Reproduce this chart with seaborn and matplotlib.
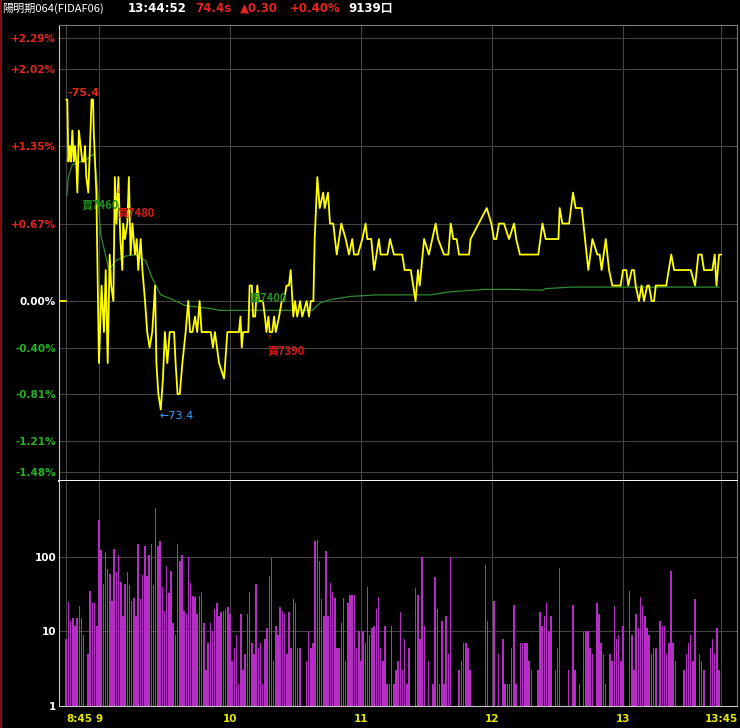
import numpy as np
import pandas as pd
import matplotlib
matplotlib.use("Agg")
import matplotlib.pyplot as plt
from matplotlib.lines import Line2D
from matplotlib.ticker import NullLocator
import seaborn as sns

# ---------------- data ----------------
ref_price = 74.1   # previous close (0.00%)

# minutes after 08:45 and traded price (yellow line)
price_times = [0, 0.5, 1.0, 1.7, 2.2, 2.8, 3.5, 4.0, 4.6, 5.1, 5.8, 6.6, 7.4, 8.1, 8.6, 9.2,
               10.1, 10.9, 11.6, 12.3, 12.6, 13.2, 13.8, 15.0, 16.2, 17.3, 18.1, 19.0, 19.9,
               20.6, 21.6, 22.3, 23.0, 23.9, 24.8, 25.7, 26.1, 26.9, 28.0, 28.7, 29.5, 30.3,
               31.5, 32.3, 33.0, 34.1, 34.9, 36.1, 37.1, 38.2, 39.4, 40.7, 41.3, 42.2, 43.3,
               44.3, 45.2, 46.3, 47.4, 48.6, 49.4, 50.1, 51.0, 52.0, 53.2, 54.7, 55.9, 56.7,
               57.8, 59.0, 60.0, 61.1, 62.0, 63.9, 66.2, 67.2, 68.1, 70.0, 72.3, 73.8, 74.9,
               79.1, 79.8, 80.4, 81.0, 83.4, 84.0, 85.0, 85.6, 86.5, 87.5, 88.3, 90.1, 91.0,
               91.7, 92.6, 93.2, 94.4, 95.2, 96.0, 97.5, 98.7,
               99.7, 100.9, 102.0, 102.8, 104.0, 104.8, 105.8, 107.1, 108.1, 110.1, 111.2,
               112.0, 113.2, 113.8, 115.0, 116.1, 117.7, 118.4, 119.9, 120.8, 122.3, 123.9,
               126.0, 128.0, 129.5, 131.0, 131.8, 133.6, 135.6, 137.1, 137.9, 139.7, 141.0,
               143.2, 144.0, 147.1, 148.3, 150.1, 153.9, 155.0, 157.8, 160.0, 161.1, 161.9,
               163.9, 166.1, 169.2, 170.3, 173.0, 175.0, 176.1, 177.3, 178.8, 179.9, 184.5,
               185.2, 192.6, 194.7, 195.9, 197.0, 198.2, 200.5,
               202.8, 205.1, 206.1, 207.8, 216.2, 218.1, 219.6, 225.4, 226.0, 227.2, 230.3,
               232.1, 233.3, 236.1, 239.1, 241.0, 243.2, 244.3, 245.2, 247.1, 248.6, 250.1,
               253.9, 255.0, 256.5, 257.4, 259.0, 260.0, 260.8, 262.3, 263.5, 264.6, 266.1,
               266.9, 268.1, 269.2, 270.0, 274.8, 277.1, 278.4, 286.0, 288.0, 289.5, 291.0,
               292.1, 295.9, 297.0, 297.8, 299.0, 300.0]
prices = [75.4, 75.4, 75.0, 75.1, 75.0, 75.2, 75.0, 75.1, 75.0, 74.8, 75.2, 75.1, 75.0, 75.0, 75.1, 74.9,
          74.8, 75.1, 75.4, 75.4, 75.2, 75.0, 74.8, 73.7, 74.2, 73.9, 74.3, 73.7, 74.4,
          74.2, 74.1, 74.9, 74.6, 74.9, 74.5, 74.3, 74.6, 74.5, 74.6, 74.9, 74.4, 74.6,
          74.4, 74.5, 74.3, 74.5, 74.3, 74.1, 73.9, 73.8, 73.9, 74.2, 73.7, 73.5, 73.4,
          73.6, 73.9, 73.7, 73.9, 73.9, 73.9, 73.7, 73.5, 73.5, 73.7, 73.9, 74.1, 73.9,
          73.9, 74.0, 73.9, 74.1, 73.9, 73.9, 73.9, 73.8, 73.9, 73.7, 73.6, 73.9, 73.9,
          73.9, 74.0, 73.8, 73.9, 73.9, 74.2, 74.2, 74.0, 74.0, 74.2, 74.1, 74.1, 74.0,
          73.9, 74.0, 73.9, 73.9, 74.0, 73.9, 74.0, 74.1,
          74.1, 74.2, 74.2, 74.3, 74.0, 74.1, 74.0, 74.1, 74.0, 74.1, 74.0,
          74.1, 74.1, 74.5, 74.9, 74.7, 74.8, 74.7, 74.8, 74.6, 74.6, 74.4,
          74.6, 74.5, 74.4, 74.5, 74.4, 74.4, 74.5, 74.6, 74.5, 74.5, 74.3,
          74.5, 74.4, 74.4, 74.5, 74.4, 74.4, 74.3, 74.3, 74.1, 74.3, 74.2,
          74.5, 74.4, 74.6, 74.5, 74.4, 74.4, 74.6, 74.5, 74.5, 74.4, 74.4,
          74.5, 74.7, 74.6, 74.5, 74.5, 74.6, 74.6,
          74.5, 74.6, 74.5, 74.4, 74.4, 74.6, 74.5, 74.5, 74.7, 74.6, 74.6,
          74.8, 74.7, 74.7, 74.3, 74.5, 74.4, 74.4, 74.3, 74.5, 74.3, 74.2,
          74.2, 74.3, 74.3, 74.2, 74.3, 74.3, 74.2, 74.1, 74.2, 74.1, 74.2,
          74.2, 74.1, 74.1, 74.2, 74.2, 74.4, 74.3, 74.3, 74.2, 74.4, 74.4,
          74.3, 74.3, 74.4, 74.2, 74.4, 74.4]

# average price (green line)
avg_times = [0.3, 1.0, 2.8, 8.9, 12.7, 14.2, 15.8, 19.6, 22.6, 27.2, 31.8, 36.4, 38.7, 41.0,
             43.3, 48.6, 54.7, 66.9, 70.0, 100.2, 112.7, 116.5, 121.1, 130.3, 142.5, 166.9,
             176.1, 191.4, 203.3, 218.0, 219.6, 231.0, 299.0]
avg_prices = [74.78, 74.90, 74.98, 75.01, 75.05, 74.85, 74.53, 74.30, 74.36, 74.39, 74.40, 74.36,
              74.27, 74.20, 74.14, 74.11, 74.07, 74.05, 74.04, 74.04, 74.04, 74.09, 74.11, 74.13,
              74.14, 74.14, 74.16, 74.175, 74.175, 74.17, 74.18, 74.19, 74.19]

# volume per minute from 08:45 to 13:45
volume = [8, 25, 14, 15, 12, 15, 22, 15, 9, 0, 5, 35, 24, 24, 12, 310, 125, 43, 118, 68,
          60, 26, 130, 62, 105, 46, 16, 44, 62, 42, 26, 28, 16, 150, 27, 57, 140, 56, 105, 150,
          42, 460, 140, 165, 40, 19, 75, 33, 65, 13, 9, 150, 88, 105, 19, 17, 100, 45, 30, 29,
          17,
          30, 34, 13, 3, 7, 13, 10, 20, 24, 16, 18, 19, 20, 21, 17, 4, 6, 9, 2, 17,
          3, 5, 17, 34, 7, 5, 43, 6, 7, 2, 8, 11, 56, 97, 4, 12, 9, 21, 19, 17,
          5, 18, 6, 27, 24, 6, 6,
          0, 0,
          4, 10, 6, 7, 163, 170, 89, 27, 16, 121, 16, 45, 34, 28, 6, 6, 13, 28, 4, 24,
          31, 31, 31, 6, 10, 4, 10, 7, 39, 9, 11, 12, 20, 29, 6, 4, 12, 2, 2, 12, 2,
          3, 4, 18, 3, 8, 2, 6, 0, 0, 38, 31, 8, 100, 12, 0, 4, 0, 2, 54, 20,
          2, 14, 2, 16, 5, 100, 0, 0, 0, 3, 4, 7, 7, 6, 3, 0, 0, 0, 0, 0,
          0, 79, 14, 0, 0, 26, 0, 5, 0, 8, 2, 2, 2, 6, 23, 2, 0, 7, 7, 7,
          7, 4, 3, 0, 0, 3, 18, 12, 16, 24, 10, 16, 0, 3, 6, 71, 0, 0, 0, 3,
          0, 23, 3, 0, 2, 0, 10, 10, 10, 6, 5, 0, 24, 17, 7, 5, 2, 0, 5, 4,
          22, 8, 9, 4, 12, 0, 0, 35, 9, 3, 17, 11, 29, 22, 16, 11, 9, 5, 6, 6,
          0, 14, 12, 12, 5, 7, 65, 7, 4, 0, 0, 0, 3, 5, 7, 9, 4, 27, 0, 5,
          4, 3, 0, 0, 6, 8, 5, 11, 3, 0]

xtick_pos = [0, 15, 75, 135, 195, 255, 300]
xtick_labels = ["8:45", "9", "10", "11", "12", "13", "13:45"]
ytick_prices = [75.8, 75.6, 75.1, 74.6, 74.1, 73.8, 73.5, 73.2, 73.0]
ytick_labels = ["+2.29%", "+2.02%", "+1.35%", "+0.67%", "0.00%", "-0.40%", "-0.81%", "-1.21%", "-1.48%"]
vol_ticks = [1, 10, 100]
vol_tick_labels = ["1", "10", "100"]

# ---------------- style ----------------
sns.set_style("dark", rc={"axes.facecolor": "black", "figure.facecolor": "black",
                          "axes.edgecolor": "#9a9a9a", "grid.color": "#444444"})
plt.rcParams["font.family"] = ["DejaVu Sans", "Noto Sans CJK TC"]

RED = "#E8231E"
GREEN = "#22B422"
YELLOW = "#FFFF00"
GRID = "#444444"
CJK = ["Noto Sans CJK TC", "DejaVu Sans"]

W, H = 740, 728
fig = plt.figure(figsize=(W / 100, H / 100), dpi=100, facecolor="black")
ax = fig.add_axes([59 / W, 1 - 481 / H, 678 / W, 456 / H])
axv = fig.add_axes([59 / W, 1 - 706 / H, 678 / W, 225 / H])

xmin, xmax = -3.3, 307.2

# ---------------- price panel ----------------
ax.set_facecolor("black")
sns.lineplot(x=[xmin, 0], y=[ref_price, ref_price], ax=ax, color=YELLOW, lw=1.3)
sns.lineplot(x=avg_times, y=avg_prices, ax=ax, color="#2E8B2E", lw=0.9,
             estimator=None, sort=False)
sns.lineplot(x=price_times, y=prices, ax=ax, color=YELLOW, lw=1.3,
             estimator=None, sort=False)
ax.set_xlim(xmin, xmax)
ax.set_ylim(72.939, 75.881)
ax.set_xticks(xtick_pos)
ax.set_yticks(ytick_prices)
ax.set_yticklabels(ytick_labels)
ax.tick_params(axis="x", length=0, labelbottom=False)
ax.tick_params(axis="y", length=0, pad=2, labelsize=7.5)
for lab, v in zip(ax.get_yticklabels(), ytick_prices):
    lab.set_fontweight("bold")
    lab.set_color(RED if v > ref_price else ("white" if v == ref_price else GREEN))
ax.grid(True, color=GRID, lw=0.8)
ax.set_xlabel("")
ax.set_ylabel("")
ax.spines["left"].set_color("#c8c8c8")
ax.spines["top"].set_color("#7a7a7a")
ax.spines["right"].set_color("#7a7a7a")
ax.spines["bottom"].set_color("white")
ax.spines["bottom"].set_linewidth(1.4)
for s in ax.spines.values():
    s.set_visible(True)

# annotations
i_hi = int(np.argmax(prices))
i_lo = int(np.argmin(prices))
ax.annotate(f"-{prices[i_hi]:.1f}", xy=(price_times[i_hi], prices[i_hi]),
            xytext=(1, 5), textcoords="offset points", color=RED,
            fontsize=8, fontweight="bold", ha="left", va="center")
ax.annotate(f"←{prices[i_lo]:.1f}", xy=(price_times[i_lo], prices[i_lo]),
            xytext=(-1, -5), textcoords="offset points", color="#3AA2FF",
            fontsize=8, ha="left", va="center")
ax.text(7.2, 74.72, "賣7460", color="#1F8F1F", fontsize=8, family=CJK,
        fontweight="bold", ha="left", va="center")
ax.text(23.4, 74.67, "買7480", color="#E01818", fontsize=8, family=CJK,
        fontweight="bold", ha="left", va="center")
ax.text(23.9, 74.81, "↓", color="#E01818", fontsize=5, ha="center", va="center")
ax.text(84.1, 74.12, "賣7400", color="#1F8F1F", fontsize=8, family=CJK,
        fontweight="bold", ha="left", va="center")
ax.text(92.4, 73.78, "買7390", color="#E01818", fontsize=8, family=CJK,
        fontweight="bold", ha="left", va="center")
ax.text(93.2, 73.86, "↑", color="#E01818", fontsize=5, ha="center", va="center")

# ---------------- volume panel ----------------
axv.set_facecolor("black")
vdf = pd.DataFrame({"minute": list(range(len(volume))), "volume": volume})
sns.barplot(data=vdf, x="minute", y="volume", native_scale=True, ax=axv,
            color="#B52EC4", width=0.7, errorbar=None, linewidth=0, saturation=1)
axv.set_yscale("log")
axv.set_ylim(1, 1047)
axv.set_xlim(xmin, xmax)
axv.yaxis.set_minor_locator(NullLocator())
axv.set_yticks(vol_ticks)
axv.set_yticklabels(vol_tick_labels)
axv.set_xticks(xtick_pos)
axv.set_xticklabels(xtick_labels)
axv.set_xlabel("")
axv.set_ylabel("")
axv.tick_params(axis="y", length=0, pad=2, labelsize=7.5, labelcolor="white")
axv.tick_params(axis="x", length=4, width=1, color="#E8E800", pad=1.5,
                labelsize=7.5, labelcolor="#E8E800")
for lab in axv.get_yticklabels():
    lab.set_fontweight("bold")
for lab in axv.get_xticklabels():
    lab.set_fontweight("bold")
axv.get_xticklabels()[0].set_horizontalalignment("left")
axv.grid(True, color=GRID, lw=0.8)
axv.spines["left"].set_color("#c8c8c8")
axv.spines["bottom"].set_color("#c8c8c8")
axv.spines["right"].set_color("#7a7a7a")
axv.spines["top"].set_visible(False)

# ---------------- header ----------------
ty = 1 - 8.5 / H
fig.text(2 / W, ty, "陽明期064(FIDAF06)", color="white", fontsize=8, family=CJK,
         ha="left", va="center")
fig.text(128 / W, ty, "13:44:52", color="white", fontsize=8.5, fontweight="bold",
         ha="left", va="center")
fig.text(195 / W, ty, "74.4s", color=RED, fontsize=8.5, fontweight="bold",
         ha="left", va="center")
fig.text(240 / W, ty, "▲0.30", color=RED, fontsize=8.5, fontweight="bold",
         ha="left", va="center")
fig.text(290 / W, ty, "+0.40%", color=RED, fontsize=8.5, fontweight="bold",
         ha="left", va="center")
fig.text(348 / W, ty, "9139口", color="white", fontsize=8.5, fontweight="bold",
         ha="left", va="center")

fig.add_artist(Line2D([1 / W, 1 / W], [0, 1], color="#A01010", lw=1.2,
                      transform=fig.transFigure))

fig.savefig("out.png", dpi=100, facecolor="black")
